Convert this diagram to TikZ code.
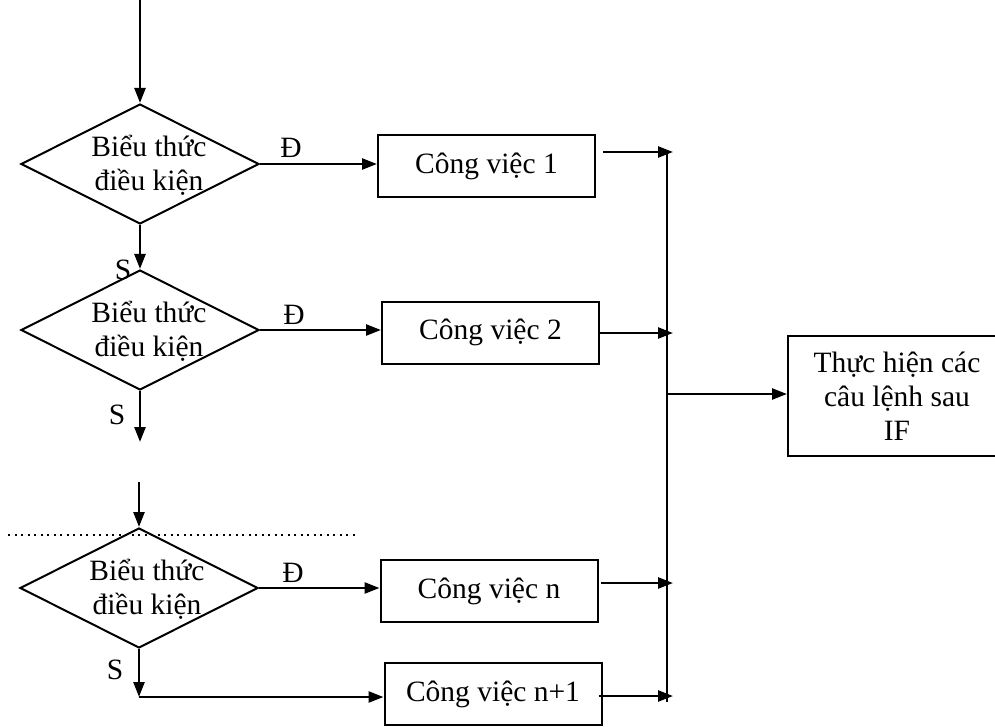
\documentclass[tikz,border=0pt]{standalone}
\usepackage{fontspec}
\setmainfont{Liberation Serif}
\usetikzlibrary{shapes.geometric,arrows.meta}
\begin{document}
\begin{tikzpicture}[x=1pt,y=-1pt,
  line width=2.5pt,
  flow/.style={-{Triangle[length=15pt,width=11pt]}},
  cond/.style={draw,diamond,minimum width=238pt,minimum height=120pt,inner sep=0pt,line width=2pt},
  task/.style={draw,rectangle,inner sep=0pt,line width=2pt,minimum width=217pt,minimum height=62pt,
    font=\fontsize{29.5}{34}\selectfont},
  txt/.style={font=\fontsize{29.5}{34}\selectfont,align=center,inner sep=0pt},
  lbl/.style={font=\fontsize{29.5}{34}\selectfont,inner sep=0pt},
]
\clip (0,0) rectangle (995,727);

% condition diamonds and their texts
\node[cond] (d1) at (140,164) {};
\node[txt] (t1) at (149,165) {Biểu thức\\điều kiện};
\node[cond] (d2) at (140,330) {};
\node[txt] (t2) at (149,331) {Biểu thức\\điều kiện};
\node[cond] (d3) at (139,588) {};
\node[txt] (t3) at (147,589) {Biểu thức\\điều kiện};

% task boxes
\node[task] (b1) at (486.5,166.5) {Công việc 1};
\node[task] (b2) at (490.5,332.5) {Công việc 2};
\node[task] (bn) at (489,591) {Công việc n};
\node[task] (bn1) at (493,694) {Công việc n+1};
\node[task,minimum width=218pt,minimum height=120pt,align=center] (after) at (897,396)
  {Thực hiện các\\câu lệnh sau\\IF};

% free ends of the vertical flow
\coordinate (start) at (140,0);
\coordinate (out2) at (140,442);
\coordinate (in3) at (139,482);
\coordinate (corner) at (139,697);

% collecting bus
\coordinate (bustop) at (667,152);
\coordinate (busbot) at (667,702);
\coordinate (bus1) at (673,152);
\coordinate (bus2) at (673,333);
\coordinate (busn) at (673,583);
\coordinate (busn1) at (673,696);
\coordinate (busout) at (667,394);

% separator between the first branches and the last one
\draw[line width=2pt,dash pattern=on 2pt off 4.5pt] (8,535) -- (358,535);

% vertical flow through the conditions
\draw[flow] (start) -- (d1.north);
\draw[flow] (d1.south) -- (d2.north);
\draw[flow] (d2.south) -- (out2);
\draw[flow] (in3) -- (d3.north);
\draw[flow] (d3.south) -- (corner);
\draw[flow] (corner) -- (corner -| bn1.west);

% true branches
\draw[flow] (d1.east) -- (d1.east -| b1.west);
\draw[flow] (d2.east) -- (d2.east -| b2.west);
\draw[flow] (d3.east) -- (d3.east -| bn.west);

% branch labels
\node[lbl] (y1) at (291,148) {Đ};
\node[lbl] (y2) at (294,315) {Đ};
\node[lbl] (y3) at (293,573) {Đ};
\node[lbl] (n1) at (123,270) {S};
\node[lbl] (n2) at (117,415) {S};
\node[lbl] (n3) at (115,670) {S};

% tasks into the bus
\draw (bustop) -- (busbot);
\draw[flow] (b1.east |- bus1) ++(7,0) -- (bus1);
\draw[flow] (b2.east |- bus2) -- (bus2);
\draw[flow] (bn.east |- busn) ++(2,0) -- (busn);
\draw[flow] (bn1.east |- busn1) ++(-4,0) -- (busn1);
\draw[flow] (busout) -- (busout -| after.west);
\end{tikzpicture}
\end{document}
